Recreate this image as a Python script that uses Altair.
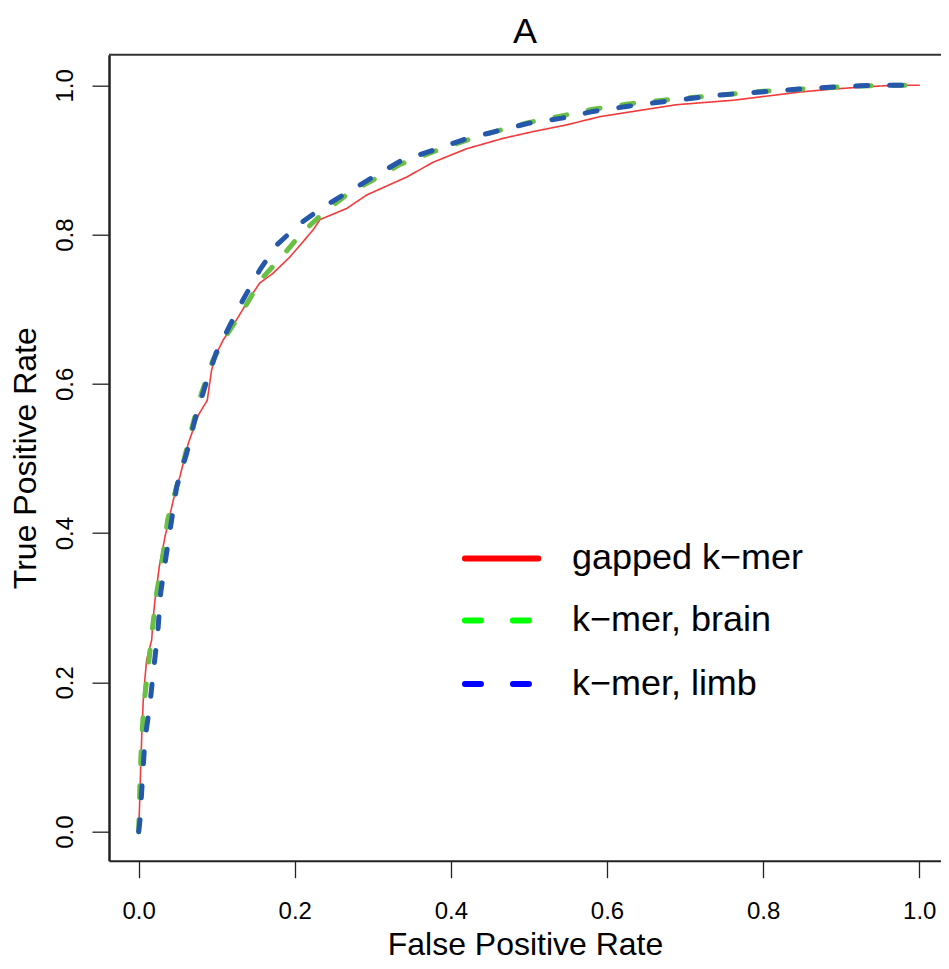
import altair as alt
import pandas as pd

# ---- data ----
series_names = ["gapped k\u2212mer", "k\u2212mer, brain", "k\u2212mer, limb"]

fpr_gapped = [0, 0.001, 0.0026, 0.004, 0.0059, 0.008, 0.0102, 0.0167, 0.0185, 0.0209,
              0.0264, 0.0337, 0.0443, 0.0529, 0.0635, 0.0764, 0.0879, 0.0935, 0.0999,
              0.1084, 0.1255, 0.1404, 0.155, 0.172, 0.1938, 0.2233, 0.2322, 0.2665,
              0.2921, 0.3433, 0.3774, 0.4202, 0.4671, 0.5055, 0.5483, 0.5909, 0.6336,
              0.6892, 0.7617, 0.8473, 0.8895, 0.9326, 0.9664, 1.0]
tpr_gapped = [0, 0.03, 0.087, 0.13, 0.176, 0.205, 0.230, 0.257, 0.285, 0.310,
              0.355, 0.395, 0.444, 0.476, 0.520, 0.558, 0.578, 0.619, 0.641,
              0.659, 0.686, 0.712, 0.735, 0.748, 0.770, 0.806, 0.820, 0.835,
              0.853, 0.877, 0.897, 0.915, 0.929, 0.938, 0.947, 0.958, 0.965,
              0.974, 0.980, 0.991, 0.995, 0.998, 1.0, 1.0]

fpr_brain = [0, 0.0005, 0.0017, 0.0038, 0.0068, 0.0123, 0.0174, 0.0231, 0.0307, 0.0372,
             0.0465, 0.058, 0.0692, 0.0807, 0.0952, 0.1144, 0.1362, 0.1576, 0.1832,
             0.2088, 0.2365, 0.2685, 0.3002, 0.3347, 0.3774, 0.4158, 0.4564, 0.4991,
             0.5419, 0.5824, 0.6272, 0.672, 0.745, 0.80, 0.85, 0.90, 0.95, 1.0]
tpr_brain = [0, 0.02, 0.069, 0.123, 0.172, 0.221, 0.270, 0.320, 0.368, 0.418,
             0.454, 0.498, 0.545, 0.588, 0.632, 0.668, 0.703, 0.741, 0.770,
             0.802, 0.829, 0.855, 0.873, 0.894, 0.911, 0.925, 0.938, 0.950,
             0.959, 0.968, 0.975, 0.980, 0.987, 0.992, 0.995, 0.998, 1.0, 1.0]

fpr_limb = [0, 0.0017, 0.005, 0.0081, 0.0145, 0.0196, 0.0247, 0.0282, 0.035, 0.0423,
            0.0487, 0.0615, 0.0721, 0.0849, 0.099, 0.1167, 0.1334, 0.1554, 0.1768,
            0.2057, 0.2365, 0.2685, 0.3002, 0.3347, 0.3774, 0.4158, 0.4564, 0.4991,
            0.5419, 0.5824, 0.6272, 0.672, 0.745, 0.8473, 0.8962, 0.9433, 1.0]
tpr_limb = [0, 0.016, 0.074, 0.123, 0.172, 0.221, 0.270, 0.320, 0.368, 0.418,
            0.462, 0.507, 0.552, 0.596, 0.641, 0.678, 0.712, 0.753, 0.786,
            0.814, 0.837, 0.857, 0.877, 0.898, 0.913, 0.927, 0.938, 0.949,
            0.956, 0.965, 0.972, 0.978, 0.987, 0.995, 0.998, 1.0, 1.0]

tick_values = [0.0, 0.2, 0.4, 0.6, 0.8, 1.0]

# ---- styles ----
FONT = "Liberation Sans"
line_colors = ["#f23c3c", "#6abf45", "#2557ab"]
legend_colors = ["#ff0000", "#00ff00", "#0000ff"]
line_widths = [1.6, 5, 5]
line_dashes = [[1, 0], [12, 22], [12, 22]]
legend_dashes = [[1, 0], [16, 32], [16, 32]]

# legend anchor (data units)
LEG_X0, LEG_X1, LEG_TX = 0.418, 0.512, 0.555
LEG_Y = [0.366, 0.283, 0.198]

PLOT_W, PLOT_H = 832, 806
XDOM = [-0.038, -0.038 + PLOT_W / 780.6]
YDOM = [-0.0389, 1.041]

xscale = alt.Scale(domain=XDOM, nice=False, zero=False)
yscale = alt.Scale(domain=YDOM, nice=False, zero=False)

xaxis = alt.Axis(values=tick_values, format=".1f", ticks=True, tickSize=17, tickWidth=1.3,
                 tickColor="#222222", domainColor="#222222", domainWidth=2,
                 labelFontSize=24, labelColor="black", labelPadding=22, labelFont=FONT,
                 grid=False, title="False Positive Rate", titleFontSize=32,
                 titleFont=FONT, titleFontWeight="normal", titleColor="black",
                 titleY=93.5, titleBaseline="alphabetic", labelFlush=False)
yaxis = alt.Axis(values=tick_values, format=".1f", ticks=True, tickSize=17, tickWidth=1.3,
                 tickColor="#222222", domainColor="#222222", domainWidth=2.5,
                 labelFontSize=24, labelColor="black", labelPadding=20, labelFont=FONT,
                 labelAngle=-90, labelAlign="center", labelBaseline="alphabetic",
                 grid=False, title="True Positive Rate", titleFontSize=32,
                 titleFont=FONT, titleFontWeight="normal", titleColor="black",
                 titleAngle=-90, titleX=-74, titleBaseline="alphabetic", labelFlush=False)

series = [(fpr_gapped, tpr_gapped), (fpr_brain, tpr_brain), (fpr_limb, tpr_limb)]
layers = []
for i, (fx, ty) in enumerate(series):
    df = pd.DataFrame({"fpr": fx, "tpr": ty, "idx": list(range(len(fx)))})
    mk = alt.Chart(df).mark_line(color=line_colors[i], strokeWidth=line_widths[i],
                                 strokeDash=line_dashes[i], strokeCap="round",
                                 strokeJoin="round", clip=True)
    layers.append(mk.encode(
        x=alt.X("fpr:Q", scale=xscale, axis=xaxis),
        y=alt.Y("tpr:Q", scale=yscale, axis=yaxis),
        order="idx:Q"))

# top border of the frame
border = alt.Chart(pd.DataFrame({"k": [0]})).mark_rule(color="#333333", strokeWidth=2).encode(
    x=alt.datum(XDOM[0], scale=xscale), x2=alt.datum(XDOM[1]),
    y=alt.datum(YDOM[1], scale=yscale))

# legend
for i, name in enumerate(series_names):
    ldf = pd.DataFrame({"x0": [LEG_X0], "x1": [LEG_X1], "tx": [LEG_TX],
                        "y": [LEG_Y[i]], "label": [name]})
    layers.append(alt.Chart(ldf).mark_rule(color=legend_colors[i], strokeWidth=6,
                                           strokeDash=legend_dashes[i], strokeCap="round").encode(
        x=alt.X("x0:Q", scale=xscale, axis=xaxis), x2="x1:Q",
        y=alt.Y("y:Q", scale=yscale, axis=yaxis)))
    layers.append(alt.Chart(ldf).mark_text(font=FONT, fontSize=36, align="left",
                                           baseline="middle", color="black").encode(
        x=alt.X("tx:Q", scale=xscale, axis=xaxis),
        y=alt.Y("y:Q", scale=yscale, axis=yaxis),
        text="label:N"))

chart = alt.layer(*layers, border).properties(
    width=PLOT_W, height=PLOT_H,
    autosize=alt.AutoSizeParams(type="none"),
    padding={"left": 101, "top": 46.7, "right": 0, "bottom": 100},
    title=alt.TitleParams("A", fontSize=36, font=FONT, fontWeight="normal",
                          anchor="middle", baseline="alphabetic", offset=11.7,
                          dy=37, color="black"),
    background="white",
).configure_view(stroke=None)

chart.save("out.html", embed_options={"renderer": "svg", "actions": False})
